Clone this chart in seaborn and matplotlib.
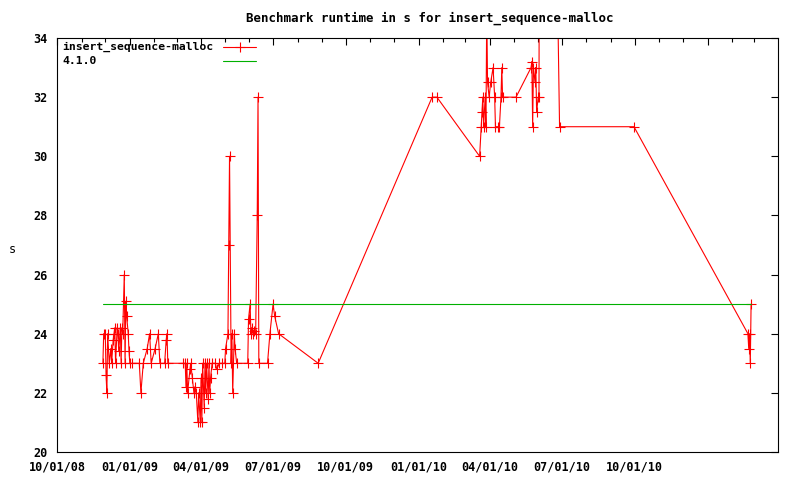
import matplotlib

matplotlib.use('Agg')

import matplotlib.dates as mdates
import matplotlib.pyplot as plt
import pandas as pd
import seaborn as sns

# runtimes (s)
run_dates = [
    "2008-11-28", "2008-11-29", "2008-12-01", "2008-12-02", "2008-12-03", "2008-12-04",
    "2008-12-06", "2008-12-08", "2008-12-09", "2008-12-11", "2008-12-12", "2008-12-13",
    "2008-12-14", "2008-12-16", "2008-12-17", "2008-12-18", "2008-12-20", "2008-12-21",
    "2008-12-22", "2008-12-23", "2008-12-25", "2008-12-26", "2008-12-27", "2008-12-28",
    "2008-12-30", "2008-12-31", "2009-01-01", "2009-01-04", "2009-01-13", "2009-01-15",
    "2009-01-18", "2009-01-23", "2009-01-26", "2009-01-28", "2009-02-02", "2009-02-06",
    "2009-02-08", "2009-02-14", "2009-02-16", "2009-02-17", "2009-02-18", "2009-03-09",
    "2009-03-12", "2009-03-13", "2009-03-14", "2009-03-15", "2009-03-18", "2009-03-19",
    "2009-03-21", "2009-03-23", "2009-03-24", "2009-03-26", "2009-03-28", "2009-03-29",
    "2009-03-31", "2009-04-01", "2009-04-02", "2009-04-03", "2009-04-05", "2009-04-06",
    "2009-04-07", "2009-04-08", "2009-04-10", "2009-04-11", "2009-04-12", "2009-04-13",
    "2009-04-15", "2009-04-19", "2009-04-21", "2009-04-24", "2009-04-27", "2009-05-01",
    "2009-05-02", "2009-05-05", "2009-05-06", "2009-05-07", "2009-05-09", "2009-05-10",
    "2009-05-11", "2009-05-13", "2009-05-14", "2009-05-16", "2009-05-30", "2009-05-31",
    "2009-06-02", "2009-06-03", "2009-06-04", "2009-06-06", "2009-06-07", "2009-06-09",
    "2009-06-11", "2009-06-12", "2009-06-13", "2009-06-24", "2009-06-27", "2009-07-01",
    "2009-07-03", "2009-07-08", "2009-08-27", "2010-01-18", "2010-01-24", "2010-03-19",
    "2010-03-21", "2010-03-22", "2010-03-23", "2010-03-24", "2010-03-26", "2010-03-27",
    "2010-03-28", "2010-03-29", "2010-03-31", "2010-04-02", "2010-04-05", "2010-04-07",
    "2010-04-08", "2010-04-11", "2010-04-13", "2010-04-15", "2010-04-16", "2010-04-17",
    "2010-05-04", "2010-05-23", "2010-05-24", "2010-05-25", "2010-05-26", "2010-05-28",
    "2010-05-29", "2010-05-30", "2010-06-01", "2010-06-02", "2010-06-03", "2010-06-24",
    "2010-06-28", "2010-09-30", "2011-02-21", "2011-02-22", "2011-02-23", "2011-02-24",
    "2011-02-25",
]
runtimes = [
    23, 24, 24, 22.6, 22, 24,
    23, 23.5, 23, 23.8, 24, 24.2,
    23, 24.2, 24, 23.4, 24.2, 23,
    24.2, 24, 26, 23, 25.1, 24.6,
    24, 23.4, 23, 23, 23, 22,
    23, 23.5, 24, 23, 23.5, 24,
    23, 23, 23.8, 24, 23, 23,
    23, 22.2, 23, 22, 22.8, 23,
    22.5, 22, 22.2, 22, 21, 22,
    21, 22.5, 21, 23, 21.5, 23,
    22, 23, 21.8, 23, 22, 22.5,
    23, 23, 22.8, 23, 23, 23,
    23.5, 24, 27, 30, 23, 24,
    22, 24, 23.5, 23, 23, 24.5,
    25, 24, 24.2, 24, 24.1, 24,
    28, 32, 23, 23, 24, 25,
    24.6, 24, 23, 32, 32, 30,
    31, 31.5, 32, 31, 32, 31,
    35, 32.5, 32, 32.5, 33, 32,
    31, 31, 31, 32, 33, 32,
    32, 33, 33.2, 31, 33, 32.5,
    33, 31.5, 32, 32, 45, 38,
    31, 31, 24, 23.5, 24, 23,
    25,
]
series_label = "insert_sequence-malloc"
baseline_label = "4.1.0"
baseline_runtime = 25.0

x_range = ["2008-10-01", "2011-03-31"]
tick_dates = ["2008-10-01", "2009-01-01", "2009-04-01", "2009-07-01", "2009-10-01",
              "2010-01-01", "2010-04-01", "2010-07-01", "2010-10-01", "2011-01-01"]
tick_labels = ["10/01/08", "01/01/09", "04/01/09", "07/01/09", "10/01/09",
               "01/01/10", "04/01/10", "07/01/10", "10/01/10", ""]
y_ticks = [20, 22, 24, 26, 28, 30, 32, 34]

RED = "#ff0000"
GREEN = "#00b000"

df = pd.DataFrame({"date": pd.to_datetime(run_dates), "runtime": runtimes})
base = pd.DataFrame({"date": [df["date"].min(), df["date"].max()],
                     "runtime": [baseline_runtime, baseline_runtime]})

sns.set_style("white")
plt.rcParams['font.family'] = ['DejaVu Sans Mono', 'DejaVu Sans']
plt.rcParams['font.weight'] = 'bold'

fig = plt.figure(figsize=(8, 4.8), dpi=100)
ax = fig.add_axes([57 / 800, 28 / 480, 721 / 800, 414 / 480])

sns.lineplot(data=df, x="date", y="runtime", ax=ax, estimator=None, sort=False,
             color=RED, lw=0.8, marker="+", markersize=7,
             markeredgecolor=RED, markeredgewidth=0.8)
sns.lineplot(data=base, x="date", y="runtime", ax=ax, estimator=None, sort=False,
             color=GREEN, lw=0.8)

ax.set_xlim(pd.to_datetime(x_range[0]), pd.to_datetime(x_range[1]))
ax.set_ylim(y_ticks[0], y_ticks[-1])
ax.set_xticks(pd.to_datetime(tick_dates))
ax.set_xticklabels(tick_labels)
ax.xaxis.set_minor_locator(mdates.MonthLocator())
ax.set_yticks(y_ticks)
ax.set_yticklabels([str(v) for v in y_ticks])

ax.tick_params(which='both', direction='in', top=True, right=True,
               colors='black', labelsize=8.5, width=0.8)
ax.tick_params(which='major', length=5)
ax.tick_params(which='minor', length=3)
ax.tick_params(axis='x', pad=6)
ax.tick_params(axis='y', pad=7)
for s in ax.spines.values():
    s.set_color('black')
    s.set_linewidth(0.8)

ax.set_xlabel("")
ax.set_ylabel("s", rotation=0, fontsize=8.5, color='black', va='center')
ax.yaxis.set_label_coords(-45 / 721, 0.49)

fig.text(430 / 800, 1 - 18 / 480, "Benchmark runtime in s for insert_sequence-malloc",
         ha='center', va='center', fontsize=9, color='black')

# gnuplot style key: text left-aligned, samples in a column on the right
key_rows = [(series_label, RED, "+"), (baseline_label, GREEN, None)]
for i, (label, color, mk) in enumerate(key_rows):
    yk = 1 - (9 + 14 * i) / 414
    ax.text(5 / 721, yk, label, transform=ax.transAxes, ha='left', va='center',
            fontsize=8.2, color='black')
    ax.plot([166 / 721, 199 / 721], [yk, yk], transform=ax.transAxes, color=color,
            lw=0.8, clip_on=False)
    if mk:
        ax.plot([182.5 / 721], [yk], transform=ax.transAxes, color=color, marker=mk,
                markersize=7, markeredgewidth=0.8, clip_on=False)

plt.savefig("out.png", dpi=100)
